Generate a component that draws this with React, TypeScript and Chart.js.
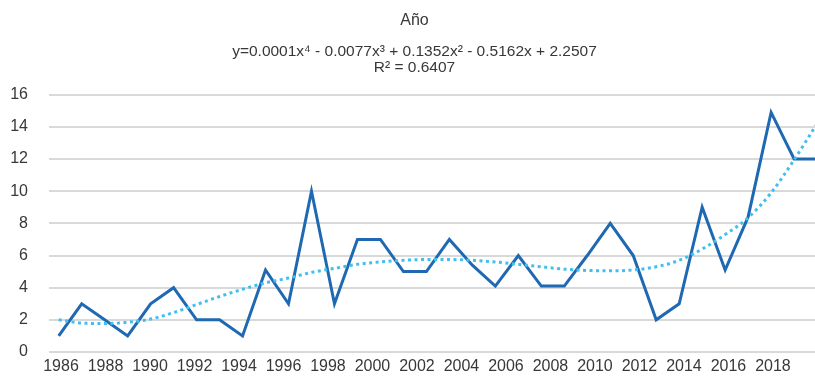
import React, { useEffect, useRef } from "react";
import { Chart, registerables } from "chart.js";

Chart.register(...registerables);

// ---- data ----
const years = [
  1986, 1987, 1988, 1989, 1990, 1991, 1992, 1993, 1994, 1995, 1996, 1997,
  1998, 1999, 2000, 2001, 2002, 2003, 2004, 2005, 2006, 2007, 2008, 2009,
  2010, 2011, 2012, 2013, 2014, 2015, 2016, 2017, 2018, 2019,
];
const values = [
  1, 3, 2, 1, 3, 4, 2, 2, 1, 5.1, 3, 10,
  3, 7, 7, 5, 5, 7, 5.4, 4.1, 6, 4.1, 4.1, 6,
  8, 6, 2, 3, 9, 5.1, 8.4, 14.9, 12, 12,
];
const trendValues = [
  2.0, 1.8, 1.77, 1.85, 2.05, 2.45, 2.95, 3.45, 3.9, 4.3, 4.6, 4.95,
  5.2, 5.45, 5.6, 5.7, 5.75, 5.75, 5.7, 5.6, 5.45, 5.3, 5.15, 5.07,
  5.05, 5.1, 5.3, 5.7, 6.4, 7.3, 8.35, 9.9, 11.95, 14.2,
];
const xTickYears = [
  1986, 1988, 1990, 1992, 1994, 1996, 1998, 2000, 2002, 2004, 2006, 2008,
  2010, 2012, 2014, 2016, 2018,
];
const yTicks = [0, 2, 4, 6, 8, 10, 12, 14, 16];
const titleText = "Año";
const equationText = "y=0.0001x⁴ - 0.0077x³ + 0.1352x² - 0.5162x + 2.2507";
const r2Text = "R² = 0.6407";

const FONT = "'Liberation Sans', Arial, sans-serif";
const TEXT = "#383838";

export default function App() {
  const ref = useRef<HTMLCanvasElement | null>(null);

  useEffect(() => {
    if (!ref.current) return;
    const chart = new Chart(ref.current, {
      type: "line",
      data: {
        datasets: [
          {
            label: "Tendencia",
            data: years.map((y, i) => ({ x: y, y: trendValues[i] })),
            borderColor: "#40bff0",
            borderWidth: 3,
            borderDash: [3, 3.5],
            borderCapStyle: "butt",
            pointRadius: 0,
            cubicInterpolationMode: "monotone",
            fill: false,
            xAxisID: "x",
            yAxisID: "y",
          },
          {
            label: "Año",
            data: years.map((y, i) => ({ x: y, y: values[i] })),
            borderColor: "#1f69b3",
            borderWidth: 3,
            pointRadius: 0,
            tension: 0,
            fill: false,
            xAxisID: "x",
            yAxisID: "y",
          },
        ],
      },
      options: {
        responsive: false,
        animation: false,
        layout: { padding: { top: 0, left: 0, right: -14, bottom: 0 } },
        plugins: {
          legend: { display: false },
          tooltip: { enabled: false },
          title: {
            display: true,
            text: titleText,
            color: TEXT,
            font: { family: FONT, size: 16, weight: "normal", lineHeight: 1.2 },
            padding: { top: 11, bottom: 3 },
          },
          subtitle: {
            display: true,
            text: [equationText, r2Text],
            color: TEXT,
            font: { family: FONT, size: 15.5, weight: "normal", lineHeight: 16.5 / 15.5 },
            padding: { top: 9.8, bottom: 18.7 },
          },
        },
        scales: {
          x: {
            type: "linear",
            display: false,
            min: 1985.578,
            max: 2018.91,
          },
          xl: {
            type: "linear",
            position: "bottom",
            min: 1985.461,
            max: 2019.89,
            afterBuildTicks: (scale: any) => {
              scale.ticks = xTickYears.map((v) => ({ value: v }));
            },
            afterFit: (scale: any) => {
              scale.height = 24;
            },
            grid: { display: false, drawTicks: false },
            border: { display: false },
            ticks: {
              color: TEXT,
              font: { family: FONT, size: 16 },
              padding: 5,
              maxRotation: 0,
              autoSkip: false,
              callback: (v: any) => String(v),
            },
          },
          y: {
            type: "linear",
            min: 0,
            max: 16,
            afterBuildTicks: (scale: any) => {
              scale.ticks = yTicks.map((v) => ({ value: v }));
            },
            afterFit: (scale: any) => {
              scale.width = 49;
              scale.paddingTop = 0;
              scale.paddingBottom = 0;
            },
            grid: { color: "#d9d9d9", lineWidth: 2, drawTicks: false },
            border: { display: false },
            ticks: {
              color: TEXT,
              font: { family: FONT, size: 16 },
              padding: 21,
              callback: (v: any) => String(v),
            },
          },
        },
      },
    });
    return () => chart.destroy();
  }, []);

  return (
    <div style={{ position: "fixed", left: 0, top: 0, width: 815, height: 376, background: "#fff" }}>
      <canvas ref={ref} width={815} height={376} style={{ display: "block" }} />
    </div>
  );
}
